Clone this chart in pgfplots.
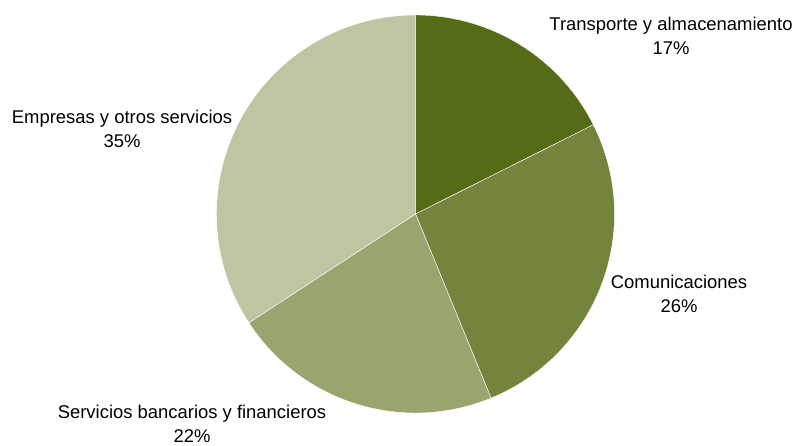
\documentclass[border=0pt]{standalone}
\usepackage{fontspec}
\setmainfont{Liberation Sans}
\usepackage{pgfplots}
\usepackage{pgfplotstable}
\pgfplotsset{compat=1.18}
\definecolor{cA}{HTML}{566B15}
\definecolor{cB}{HTML}{73843D}
\definecolor{cC}{HTML}{98A56E}
\definecolor{cD}{HTML}{BEC5A3}
\pgfplotstableread{
cat pct
Transporte 17.6
Comunicaciones 26.2
Servicios 22.0
Empresas 34.2
}\piedata
\begin{document}
\begin{tikzpicture}
\pgfplotstablegetelem{0}{pct}\of\piedata \let\pA\pgfplotsretval
\pgfplotstablegetelem{1}{pct}\of\piedata \let\pB\pgfplotsretval
\pgfplotstablegetelem{2}{pct}\of\piedata \let\pC\pgfplotsretval
\pgfplotstablegetelem{3}{pct}\of\piedata \let\pD\pgfplotsretval
\pgfmathsetmacro\eA{90-3.6*\pA}
\pgfmathsetmacro\eB{\eA-3.6*\pB}
\pgfmathsetmacro\eC{\eB-3.6*\pC}
\pgfmathsetmacro\eD{\eC-3.6*\pD}
\begin{axis}[name=ax,
  width=801bp, height=446bp, scale only axis,
  xmin=0, xmax=801, ymin=0, ymax=446, y dir=reverse,
  hide axis, clip=false]
\def\R{199bp}
\fill[cA, draw=white, line width=0.4pt] (axis cs:415.5,214) -- ++(90:\R) arc[start angle=90, end angle=\eA, radius=\R] -- cycle;
\fill[cB, draw=white, line width=0.4pt] (axis cs:415.5,214) -- ++(\eA:\R) arc[start angle=\eA, end angle=\eB, radius=\R] -- cycle;
\fill[cC, draw=white, line width=0.4pt] (axis cs:415.5,214) -- ++(\eB:\R) arc[start angle=\eB, end angle=\eC, radius=\R] -- cycle;
\fill[cD, draw=white, line width=0.4pt] (axis cs:415.5,214) -- ++(\eC:\R) arc[start angle=\eC, end angle=\eD, radius=\R] -- cycle;
\tikzset{lbl/.style={align=center, inner sep=0pt, font=\fontsize{18.5}{24}\selectfont}}
\node[lbl] at (axis cs:671,36) {Transporte y almacenamiento\\17\%};
\node[lbl] at (axis cs:679,294) {Comunicaciones\\26\%};
\node[lbl] at (axis cs:192,424) {Servicios bancarios y financieros\\22\%};
\node[lbl] at (axis cs:122,129) {Empresas y otros servicios\\35\%};
\end{axis}
\pgfresetboundingbox
\path (ax.south west) rectangle (ax.north east);
\end{tikzpicture}
\end{document}
